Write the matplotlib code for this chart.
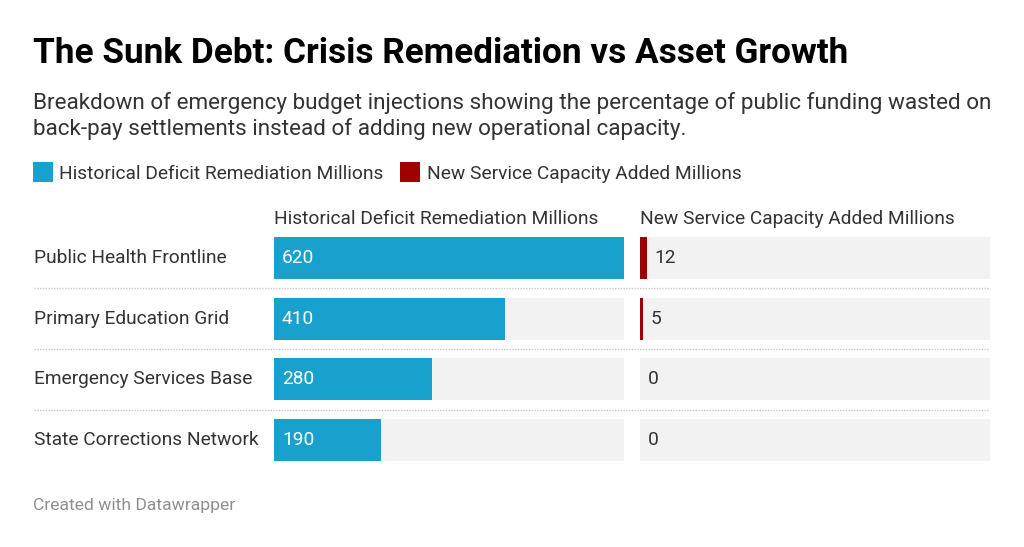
import matplotlib
matplotlib.use("Agg")
import matplotlib.pyplot as plt
from matplotlib.patches import Rectangle

categories = ["Public Health Frontline", "Primary Education Grid",
              "Emergency Services Base", "State Corrections Network"]
remediation = [620, 410, 280, 190]
capacity = [12, 5, 0, 0]
series_names = ["Historical Deficit Remediation Millions",
                "New Service Capacity Added Millions"]
title = "The Sunk Debt: Crisis Remediation vs Asset Growth"
subtitle = ["Breakdown of emergency budget injections showing the percentage of public funding wasted on",
            "back-pay settlements instead of adding new operational capacity."]
footer = "Created with Datawrapper"

BLUE = "#18a1cd"
RED = "#a00000"
BG = "#f2f2f2"
FONT = "Roboto"
FS = 13.8

W, H = 1024, 547
fig = plt.figure(figsize=(W / 100, H / 100), dpi=100)
fig.patch.set_facecolor("white")


def fx(x):
    return x / W


def fy(y):
    return 1 - y / H


def rect(x0, y0, x1, y1):
    return [fx(x0), fy(y1), fx(x1) - fx(x0), fy(y0) - fy(y1)]


# Texts
fig.text(fx(33), fy(63), title, fontsize=25.3, fontweight="bold", color="#000000",
         family=FONT, va="baseline")
fig.text(fx(33), fy(109), subtitle[0], fontsize=16.2, color="#333333", family=FONT, va="baseline")
fig.text(fx(33), fy(135), subtitle[1], fontsize=16.2, color="#333333", family=FONT, va="baseline")

# Legend
fig.patches.append(Rectangle((fx(33), fy(182)), fx(20), 20 / H, transform=fig.transFigure,
                             facecolor=BLUE, edgecolor="none"))
fig.text(fx(59), fy(179), series_names[0], fontsize=FS, color="#333333", family=FONT, va="baseline")
fig.patches.append(Rectangle((fx(400), fy(182)), fx(20), 20 / H, transform=fig.transFigure,
                             facecolor=RED, edgecolor="none"))
fig.text(fx(427), fy(179), series_names[1], fontsize=FS, color="#333333", family=FONT, va="baseline")

# Column headers
fig.text(fx(274), fy(224), series_names[0], fontsize=FS, color="#333333", family=FONT, va="baseline")
fig.text(fx(640), fy(224), series_names[1], fontsize=FS, color="#333333", family=FONT, va="baseline")

row_top, row_bot = 227.7, 470.3
n = len(categories)
maxv = max(remediation)
bar_h = 0.69

# Separator axes
ax_sep = fig.add_axes(rect(34, row_top, 990, row_bot))
ax_sep.set_xlim(0, 1)
ax_sep.set_ylim(n - 0.5, -0.5)
ax_sep.axis("off")
for i in range(n - 1):
    ax_sep.axhline(i + 0.5, color="#c8c8c8", lw=1, ls=(0, (1, 1)))
for i, c in enumerate(categories):
    ax_sep.text(0, i, c, fontsize=FS, color="#333333", family=FONT, va="center", ha="left")

panels = [(274, 624, remediation, BLUE, True), (640, 990, capacity, RED, False)]
for x0, x1, vals, col, inside in panels:
    ax = fig.add_axes(rect(x0, row_top, x1, row_bot))
    ax.set_xlim(0, maxv)
    ax.set_ylim(n - 0.5, -0.5)
    ax.axis("off")
    ys = list(range(n))
    ax.barh(ys, [maxv] * n, height=bar_h, color=BG, left=0)
    ax.barh(ys, vals, height=bar_h, color=col, left=0)
    for y, v in zip(ys, vals):
        if inside:
            ax.annotate(str(v), xy=(0, y), xytext=(8 * 0.72, 0), textcoords="offset points",
                        color="white", fontsize=FS, family=FONT, va="center", ha="left")
        else:
            ax.annotate(str(v), xy=(v, y), xytext=(8 * 0.72, 0), textcoords="offset points",
                        color="#333333", fontsize=FS, family=FONT, va="center", ha="left")

fig.text(fx(33), fy(510), footer, fontsize=12.6, color="#8f8f8f", family=FONT, va="baseline")

fig.savefig("out.png", dpi=100, facecolor="white")
